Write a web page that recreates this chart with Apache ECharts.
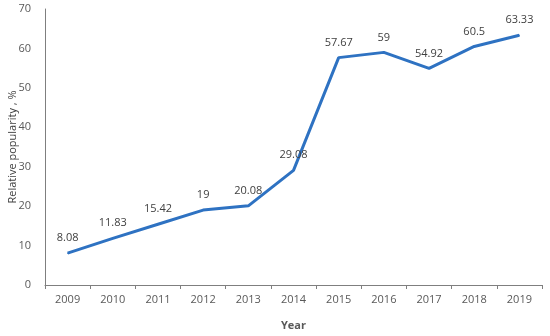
<!DOCTYPE html>
<html><head><meta charset="utf-8">
<script src="https://cdn.jsdelivr.net/npm/echarts@6/dist/echarts.min.js"></script>
<style>html,body{margin:0;padding:0;background:#fff}#c{width:550px;height:336px}</style>
</head><body><div id="c"></div>
<script>
var years = ['2009','2010','2011','2012','2013','2014','2015','2016','2017','2018','2019'];
var popularity = [8.08, 11.83, 15.42, 19, 20.08, 29.08, 57.67, 59, 54.92, 60.5, 63.33];
var labelTexts = ['8.08','11.83','15.42','19','20.08','29.08','57.67','59','54.92','60.5','63.33'];
var chart = echarts.init(document.getElementById('c'));
chart.setOption({
  animation: false,
  grid: {left: 45, right: 8, top: 9, bottom: 51, containLabel: false, outerBoundsMode: 'none'},
  xAxis: {
    type: 'category', data: years, boundaryGap: true,
    name: 'Year', nameLocation: 'middle', nameGap: 35, nameMoveOverlap: false,
    nameTextStyle: {fontFamily: 'Open Sans', fontSize: 11, fontWeight: 'bold', color: '#595959'},
    axisLine: {lineStyle: {color: '#7f7f7f', width: 1}},
    axisTick: {show: true, length: 4, lineStyle: {color: '#7f7f7f'}},
    axisLabel: {fontFamily: 'Open Sans', fontSize: 11, color: '#595959', margin: 9}
  },
  yAxis: {
    type: 'value', min: 0, max: 70, interval: 10,
    name: 'Relative popularity , %', nameLocation: 'middle', nameGap: 27, nameRotate: 90, nameMoveOverlap: false,
    nameTextStyle: {fontFamily: 'Open Sans', fontSize: 11, color: '#404040'},
    axisLine: {show: true, lineStyle: {color: '#7f7f7f', width: 1}},
    axisTick: {show: false},
    splitLine: {show: false},
    axisLabel: {fontFamily: 'Open Sans', fontSize: 11, color: '#595959', margin: 14}
  },
  series: [{
    type: 'line', data: popularity, symbol: 'circle', symbolSize: 1, showSymbol: true,
    itemStyle: {color: '#2e72c2', borderWidth: 0},
    lineStyle: {color: '#2e72c2', width: 3},
    label: {show: true, position: 'top', distance: 9, fontFamily: 'Open Sans', fontSize: 11, color: '#404040',
      formatter: function(p){ return labelTexts[p.dataIndex]; }}
  }]
});
</script></body></html>
